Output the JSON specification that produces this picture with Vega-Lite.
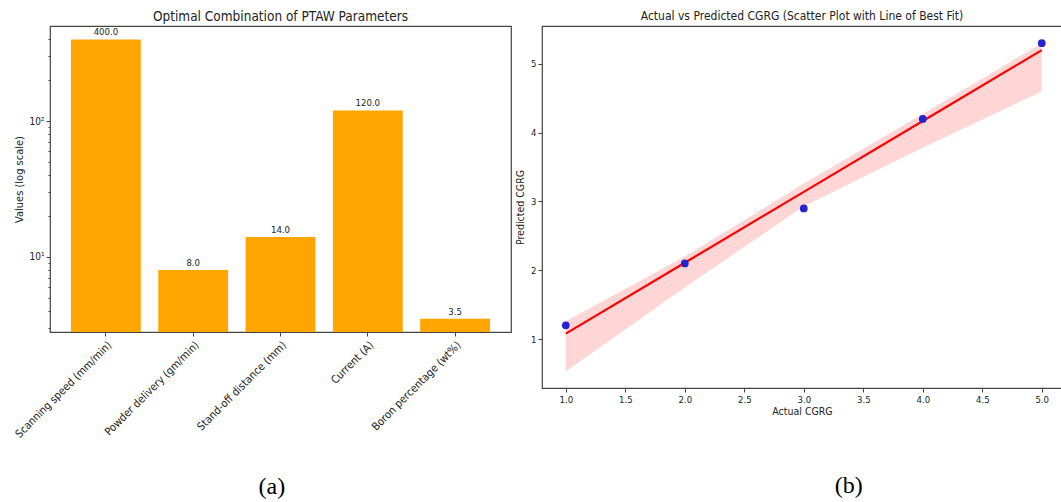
{
  "$schema": "https://vega.github.io/schema/vega-lite/v6.json",
  "padding": {"left": 12, "top": 8, "right": 0, "bottom": 0},
  "spacing": 2,
  "config": {
    "font": "DejaVu Sans Condensed",
    "view": {"stroke": "#444", "strokeWidth": 1.2},
    "axis": {
      "grid": false, "domain": false, "tickColor": "#444", "tickSize": 4,
      "labelFont": "DejaVu Sans Condensed", "labelFontSize": 10, "labelColor": "#222",
      "titleFont": "DejaVu Sans Condensed", "titleFontSize": 11, "titleFontWeight": "normal", "titleColor": "#222",
      "labelPadding": 2
    },
    "title": {"font": "DejaVu Sans Condensed", "fontSize": 13.5, "fontWeight": "normal", "color": "#222", "offset": 3},
    "concat": {"spacing": 2}
  },
  "hconcat": [
    {
      "title": {"text": "(a)", "orient": "bottom", "anchor": "middle", "font": "Liberation Serif", "fontSize": 24, "color": "#000", "offset": 35, "dx": 10},
      "vconcat": [
        {
          "width": 461,
          "height": 306,
          "title": {"text": "Optimal Combination of PTAW Parameters"},
          "data": {"values": [
            {"param": "Scanning speed (mm/min)", "value": 400},
            {"param": "Powder delivery (gm/min)", "value": 8},
            {"param": "Stand-off distance (mm)", "value": 14},
            {"param": "Current (A)", "value": 120},
            {"param": "Boron percentage (wt%)", "value": 3.5}
          ]},
          "encoding": {
            "x": {
              "field": "param", "type": "nominal", "sort": null, "title": null,
              "scale": {"paddingInner": 0.2, "paddingOuter": 0.24},
              "axis": {"labelAngle": -45, "labelAlign": "right", "labelBaseline": "top", "labelPadding": 3, "labelFontSize": 11}
            },
            "y": {
              "field": "value", "type": "quantitative", "title": "Values (log scale)",
              "scale": {"type": "log", "domain": [2.8, 502], "nice": false},
              "axis": {
                "values": [3, 4, 5, 6, 7, 8, 9, 10, 20, 30, 40, 50, 60, 70, 80, 90, 100, 200, 300, 400],
                "labelExpr": "datum.value == 10 ? '10¹' : (datum.value == 100 ? '10²' : '')",
                "tickSize": {"condition": {"test": "datum.value == 10 || datum.value == 100", "value": 4}, "value": 2},
                "titlePadding": 4
              }
            }
          },
          "layer": [
            {"mark": {"type": "bar", "color": "#FFA500", "clip": true},
             "encoding": {"y2": {"datum": 2.8}}},
            {"mark": {"type": "text", "baseline": "bottom", "dy": -2, "fontSize": 9.5, "color": "#222"},
             "encoding": {"text": {"field": "value", "type": "quantitative", "format": ".1f"}}}
          ]
        }
      ]
    },
    {
      "title": {"text": "(b)", "orient": "bottom", "anchor": "middle", "font": "Liberation Serif", "fontSize": 24, "color": "#000", "offset": 56, "dx": 60},
      "vconcat": [
        {
          "width": 520,
          "height": 362,
          "title": {"text": "Actual vs Predicted CGRG (Scatter Plot with Line of Best Fit)", "fontSize": 12},
          "data": {"values": [
            {"actual": 1, "predicted": 1.2, "fit": 1.08, "lo": 0.53, "hi": 1.26},
            {"actual": 2, "predicted": 2.1, "fit": 2.11, "lo": 1.75, "hi": 2.2},
            {"actual": 3, "predicted": 2.9, "fit": 3.14, "lo": 2.93, "hi": 3.26},
            {"actual": 4, "predicted": 4.2, "fit": 4.17, "lo": 3.78, "hi": 4.27},
            {"actual": 5, "predicted": 5.3, "fit": 5.2, "lo": 4.6, "hi": 5.3}
          ]},
          "encoding": {
            "x": {
              "field": "actual", "type": "quantitative", "title": "Actual CGRG",
              "scale": {"domain": [0.8, 5.17], "nice": false, "zero": false},
              "axis": {"values": [1, 1.5, 2, 2.5, 3, 3.5, 4, 4.5, 5], "format": ".1f", "titlePadding": 3, "labelFontSize": 9.5, "titleFontSize": 10.5}
            }
          },
          "layer": [
            {"mark": {"type": "area", "color": "#ffd6d6", "opacity": 1},
             "encoding": {
               "y": {"field": "lo", "type": "quantitative", "title": "Predicted CGRG",
                     "scale": {"domain": [0.29, 5.55], "nice": false, "zero": false},
                     "axis": {"values": [1, 2, 3, 4, 5], "format": "d", "titlePadding": 5, "labelFontSize": 9.5, "titleFontSize": 10.5}},
               "y2": {"field": "hi"}
             }},
            {"mark": {"type": "line", "color": "#ff0000", "strokeWidth": 2.2},
             "encoding": {"y": {"field": "fit", "type": "quantitative"}}},
            {"mark": {"type": "point", "filled": true, "color": "#2323d0", "opacity": 1, "size": 60},
             "encoding": {"y": {"field": "predicted", "type": "quantitative"}}}
          ]
        }
      ]
    }
  ]
}
